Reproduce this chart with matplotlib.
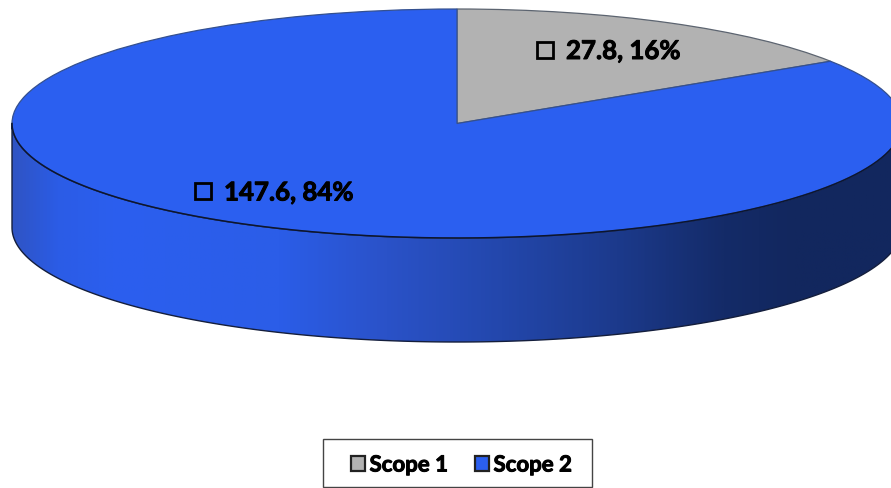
import numpy as np
import matplotlib
matplotlib.use('Agg')
import matplotlib.pyplot as plt
import matplotlib.patheffects as pe
from matplotlib.colors import LinearSegmentedColormap
from matplotlib.patches import Polygon, Rectangle

plt.rcParams['font.family'] = ['Lato', 'DejaVu Sans']

categorias = ['Scope 1', 'Scope 2']
valores = [27.8, 147.6]
percentuais = [16, 84]
cores = ['#b2b2b2', '#2b5ff0']
bordas = ['#5c6470', '#34508f']

# geometria da elipse em pixels da imagem
W, H = 891, 489
CX, CY = 457, 124.5
RX, RY = 445, 114.5
ALTURA = 104 / RY


def px(x):
    return (x - CX) / RX


def py(y):
    return (CY - y) / RY


fig = plt.figure(figsize=(W / 100, H / 100), dpi=100)
ax = fig.add_axes([0, 0, 1, 1])

# lateral do disco, com gradiente
t = np.linspace(np.pi, 2 * np.pi, 300)
topo = np.column_stack([np.cos(t), np.sin(t)])
base = np.column_stack([np.cos(t[::-1]), np.sin(t[::-1]) - ALTURA])
lateral = Polygon(np.vstack([topo, base]), closed=True, facecolor='none',
                  edgecolor='#141e3c', linewidth=1.0, zorder=1)
ax.add_patch(lateral)

cmap = LinearSegmentedColormap.from_list('lateral', [
    (0.0, '#2f54c4'), (0.05, '#2b5ce6'), (0.12, '#2b5fef'), (0.30, '#2b5de8'),
    (0.42, '#2a52c8'), (0.55, '#2347ac'), (0.68, '#1c3a8c'), (0.80, '#142b68'),
    (0.88, '#12275e'), (1.0, '#12275e')])
grad = ax.imshow(np.linspace(0, 1, 512).reshape(1, -1), cmap=cmap, aspect='auto',
                 extent=[-1, 1, -1 - ALTURA, 0], zorder=0.5)
grad.set_clip_path(lateral)

# topo do disco
fatias, _ = ax.pie(valores, colors=cores, startangle=90, counterclock=False,
                   wedgeprops={'linewidth': 0.9, 'zorder': 2})
for f, b in zip(fatias, bordas):
    f.set_edgecolor(b)
ax.plot(topo[:, 0], topo[:, 1], color='#0c1530', lw=1.1, zorder=2.5)
ax.set_aspect('auto')
ax.set_xlim(px(0), px(W))
ax.set_ylim(py(H), py(0))
ax.axis('off')

negrito = [pe.withStroke(linewidth=0.7, foreground='black')]

# rotulos
pos_chave = [(545, 51), (203, 192)]
pos_texto = [(566, 52), (224, 193.5)]
for v, p, c, pc, pt in zip(valores, percentuais, cores, pos_chave, pos_texto):
    ax.plot(px(pc[0]), py(pc[1]), marker='s', ms=11.5, mfc=c, mec='black', mew=2.0,
            ls='none', zorder=3)
    ax.text(px(pt[0]), py(pt[1]), f'{v}, {p}%', fontsize=18.6, fontweight='bold',
            color='black', ha='left', va='center', zorder=3, path_effects=negrito)

# legenda: moldura separada para acertar as margens
ax.add_patch(Rectangle((px(323), py(488)), 269 / RX, 48 / RY, facecolor='white',
                       edgecolor='#444444', linewidth=1.0, zorder=3))
leg = ax.legend(fatias, categorias, ncol=2, loc='center',
                bbox_to_anchor=(461.5 / W, 1 - 466 / H), bbox_transform=fig.transFigure,
                frameon=False, prop={'size': 16, 'weight': 'bold'},
                handlelength=0.62, handleheight=0.62, handletextpad=0.22,
                columnspacing=1.2, borderpad=0, borderaxespad=0)
leg.set_zorder(4)
for h in leg.legend_handles:
    h.set_edgecolor('#222222')
    h.set_linewidth(1.6)
for txt in leg.get_texts():
    txt.set_path_effects(negrito)

fig.savefig('out.png', dpi=100, facecolor='white')
